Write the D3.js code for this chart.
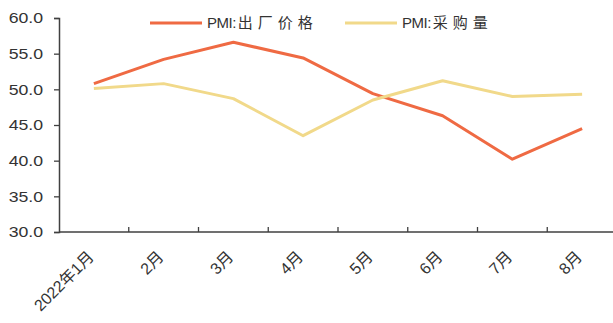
<!DOCTYPE html>
<html>
<head>
<meta charset="utf-8">
<script src="https://cdn.jsdelivr.net/npm/d3@7"></script>
<style>
  html, body { margin: 0; padding: 0; background: #fff; }
  svg { display: block; font-family: Arial, "Liberation Sans", "Noto Sans CJK SC", sans-serif; }
</style>
</head>
<body>
<svg id="chart" width="613" height="323"></svg>
<script>
// Months on the x axis
const months = ["2022年1月", "2月", "3月", "4月", "5月", "6月", "7月", "8月"];
// PMI: ex-factory price index
const pmiPrice = [50.8, 54.2, 56.6, 54.4, 49.4, 46.3, 40.2, 44.5];
// PMI: purchase volume index
const pmiPurchase = [50.1, 50.8, 48.7, 43.5, 48.5, 51.2, 49.0, 49.3];
// Y axis ticks
const yTicks = [30, 35, 40, 45, 50, 55, 60];

const seriesList = [
  { prefix: "PMI:", label: "出厂价格", values: pmiPrice, color: "#EF6A43" },
  { prefix: "PMI:", label: "采购量", values: pmiPurchase, color: "#F1D98A" }
];

const svg = d3.select("#chart");
const plotLeft = 59, plotRight = 617, plotTop = 18, plotBottom = 232;

const x = d3.scaleBand().domain(months).range([plotLeft, plotRight]).padding(0);
const y = d3.scaleLinear().domain([30, 60]).range([plotBottom, plotTop]);

const axisColor = "#404040";
const textColor = "#333";

// Y axis (labels set in a slightly wide face)
const yAxis = svg.append("g")
  .attr("transform", `translate(${plotLeft},0)`)
  .call(d3.axisLeft(y).tickValues(yTicks).tickFormat(d3.format(".1f")).tickSize(5).tickPadding(8.5));
yAxis.select(".domain").attr("stroke", axisColor).attr("stroke-width", 1.5);
yAxis.selectAll(".tick line").attr("stroke", axisColor).attr("stroke-width", 1.3);
yAxis.selectAll(".tick text")
  .attr("fill", textColor)
  .attr("transform", "scale(1.18,1)")
  .style("font-size", "15px");

// X axis with ticks at band boundaries
const xAxisG = svg.append("g").attr("transform", `translate(0,${plotBottom})`);
xAxisG.append("line")
  .attr("x1", plotLeft).attr("x2", plotRight)
  .attr("y1", 0).attr("y2", 0)
  .attr("stroke", axisColor).attr("stroke-width", 1.5);
const boundaries = months.map(m => x(m)).concat([x(months[months.length - 1]) + x.bandwidth()]);
xAxisG.selectAll("line.tk").data(boundaries.slice(1)).join("line")
  .attr("class", "tk")
  .attr("x1", d => d).attr("x2", d => d)
  .attr("y1", 0).attr("y2", -5)
  .attr("stroke", axisColor).attr("stroke-width", 1.3);
xAxisG.selectAll("text").data(months).join("text")
  .attr("transform", d => `translate(${x(d) + x.bandwidth() / 2 - 3},${22}) rotate(-45)`)
  .attr("text-anchor", "end")
  .attr("dy", "0.35em")
  .attr("fill", textColor)
  .style("font-size", "16px")
  .text(d => d);

// Lines
const line = d3.line()
  .x((d, i) => x(months[i]) + x.bandwidth() / 2)
  .y(d => y(d));

seriesList.forEach(s => {
  svg.append("path")
    .datum(s.values)
    .attr("fill", "none")
    .attr("stroke", s.color)
    .attr("stroke-width", 3)
    .attr("stroke-linejoin", "round")
    .attr("d", line);
});

// Legend
const legendItems = [
  { x: 150, s: seriesList[0] },
  { x: 345, s: seriesList[1] }
];
legendItems.forEach(item => {
  const g = svg.append("g").attr("transform", `translate(${item.x},23)`);
  g.append("line").attr("x1", 0).attr("x2", 52).attr("y1", 0).attr("y2", 0)
    .attr("stroke", item.s.color).attr("stroke-width", 3);
  const t = g.append("text").attr("x", 57).attr("y", 0).attr("dy", "0.36em")
    .attr("fill", textColor).style("font-size", "15px");
  t.append("tspan").attr("letter-spacing", "-0.5px").text(item.s.prefix);
  t.append("tspan").attr("dx", 2).attr("letter-spacing", "5px").text(item.s.label);
});
</script>
</body>
</html>
